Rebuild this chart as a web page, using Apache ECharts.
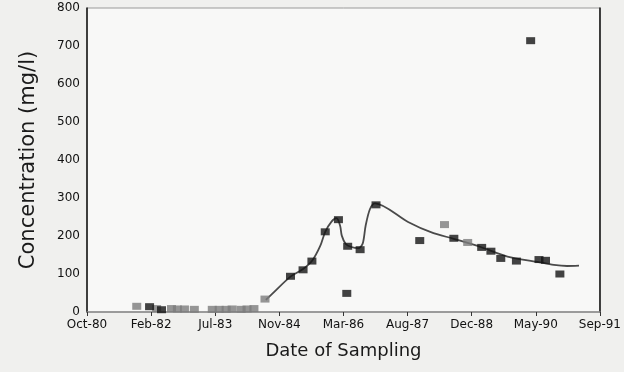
<!DOCTYPE html>
<html>
<head>
<meta charset="utf-8">
<script src="https://cdn.jsdelivr.net/npm/echarts@6/dist/echarts.min.js"></script>
<style>
html,body{margin:0;padding:0;background:#f0f0ee;}
#chart{width:624px;height:372px;}
</style>
</head>
<body>
<div id="chart"></div>
<script>
// x values: days since Oct 1980 (axis origin); tick every 500 days
var tickLabels = ['Oct-80','Feb-82','Jul-83','Nov-84','Mar-86','Aug-87','Dec-88','May-90','Sep-91'];

// dark squares: [day, concentration mg/l]
var darkDays = [488, 581, 1587, 1685, 1754, 1858, 1961, 2033, 2026, 2130, 2254, 2595, 2861, 3078, 3150, 3227, 3349, 3525, 3576, 3688, 3460];
var darkConc = [14, 6, 94, 111, 134, 211, 243, 173, 49, 164, 282, 188, 194, 170, 160, 141, 134, 138, 136, 100, 714];

// gray squares
var grayDays = [388, 543, 659, 705, 760, 837, 977, 1031, 1085, 1132, 1202, 1248, 1302, 1388, 2788, 2969];
var grayConc = [15, 9, 9, 8, 8, 7, 7, 7, 7, 8, 7, 8, 9, 34, 230, 183];

// fitted trend curve
var curveDays = [1395, 1442, 1587, 1685, 1754, 1819, 1858, 1907, 1946, 1974, 1987, 2018, 2062, 2116, 2150, 2173, 2207, 2246, 2504, 2682, 2866, 3070, 3279, 3512, 3641, 3744, 3837];
var curveConc = [32, 47, 93, 113, 134, 174, 211, 238, 247, 227, 201, 179, 171, 168, 180, 227, 271, 286, 237, 210, 192, 171, 146, 132, 124, 121, 122];

function zip(a, b) { return a.map(function (v, i) { return [v, b[i]]; }); }

var chart = echarts.init(document.getElementById('chart'), null, {renderer: 'canvas'});
var font = 'DejaVu Sans';
chart.setOption({
  backgroundColor: '#f0f0ee',
  animation: false,
  grid: {left: 87, right: 21, top: 8, bottom: 60, show: true, backgroundColor: '#f8f8f7', borderColor: '#9a9a9a', borderWidth: 1},
  xAxis: {
    type: 'value', min: 0, max: 4000, interval: 500,
    name: 'Date of Sampling', nameLocation: 'middle', nameGap: 30,
    nameTextStyle: {fontFamily: font, fontSize: 18, color: '#1a1a1a'},
    axisLine: {show: true, lineStyle: {color: '#8c8c8c', width: 1.5}},
    axisTick: {show: true, inside: false, length: 4, lineStyle: {color: '#333'}},
    axisLabel: {fontFamily: font, fontSize: 12, color: '#111', margin: 7,
      formatter: function (v) { return tickLabels[Math.round(v / 500)] || ''; }},
    splitLine: {show: false}
  },
  yAxis: [{
    type: 'value', min: 0, max: 800, interval: 100,
    name: 'Concentration (mg/l)', nameLocation: 'middle', nameGap: 48,
    nameTextStyle: {fontFamily: font, fontSize: 21, color: '#1a1a1a'},
    axisLine: {show: true, lineStyle: {color: '#111', width: 1.5}},
    axisTick: {show: false},
    axisLabel: {fontFamily: font, fontSize: 12, color: '#111', margin: 7},
    splitLine: {show: false}
  }, {
    type: 'value', min: 0, max: 800, position: 'right',
    axisLine: {show: true, lineStyle: {color: '#111', width: 1.5}},
    axisTick: {show: false}, axisLabel: {show: false}, splitLine: {show: false}
  }],
  series: [{
    type: 'line', data: zip(curveDays, curveConc), smooth: 0.3, showSymbol: false,
    lineStyle: {color: '#4a4a4a', width: 1.8}, z: 2
  }, {
    type: 'scatter', data: zip(grayDays, grayConc), symbol: 'rect', symbolSize: [9, 7],
    itemStyle: {color: '#7c7c7c'}, z: 3
  }, {
    type: 'scatter', data: zip(darkDays, darkConc), symbol: 'rect', symbolSize: [9, 7],
    itemStyle: {color: '#141414'}, z: 4
  }]
});
</script>
</body>
</html>
